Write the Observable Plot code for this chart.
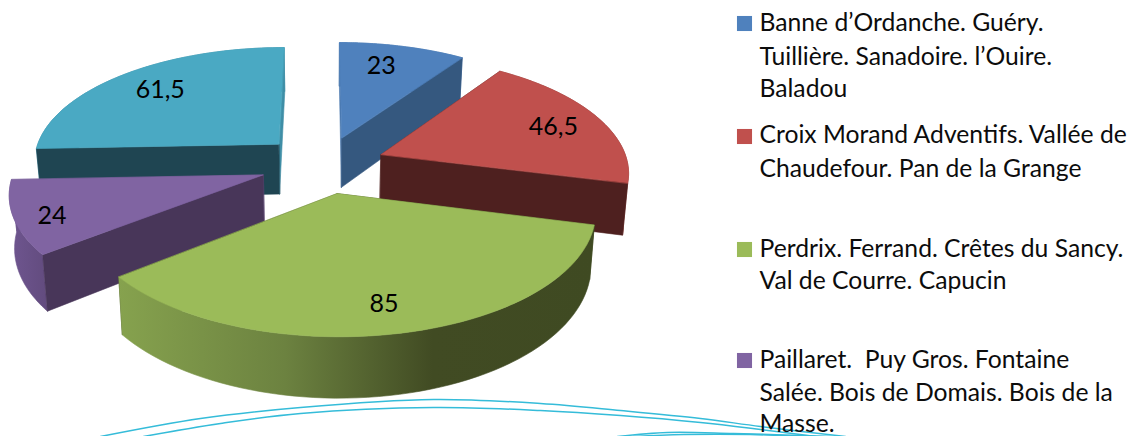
<!DOCTYPE html>
<html><head><meta charset="utf-8">
<script src="https://cdn.jsdelivr.net/npm/d3@7"></script>
<script src="https://cdn.jsdelivr.net/npm/@observablehq/plot@0.6"></script>
<style>html,body{margin:0;padding:0;background:#fff;overflow:hidden}svg{display:block}</style>
</head><body><div id="chart"></div>
<script>
const categories = [
  ["Banne d’Ordanche. Guéry.", "Tuillière. Sanadoire. l’Ouire.", "Baladou"],
  ["Croix Morand Adventifs. Vallée de", "Chaudefour. Pan de la Grange"],
  ["Perdrix. Ferrand. Crêtes du Sancy.", "Val de Courre. Capucin"],
  ["Paillaret.  Puy Gros. Fontaine", "Salée. Bois de Domais. Bois de la", "Masse."]
];
const values = [23, 46.5, 85, 24, 61.5];
const valueLabels = ["23", "46,5", "85", "24", "61,5"];
const topColors = ["#4f81bd", "#c0504d", "#9bbb59", "#8064a2", "#4aa9c3"];
const faceColors = ["#35587f", "#4e201f", "#414b23", "#483659", "#1f4552"];
const edgeColors = ["#4a78af", "#8a3a38", "#7f9a48", "#6a5288", "#3f8ea6"];
const drawOrder = [4, 0, 3, 1, 2];
const frontWall = ["end", "end", "none", "start", "start"];
const explodeBy = [0.25, 0.25, 0.25, 0.26, 0.26];
const legendLineY = [[23, 57, 89], [135, 169], [249, 281], [360, 393, 424]];
const legendSwatchY = [23, 136, 249, 360];
const waveA = [[100,436],[200,418],[300,407],[433,399],[540,403],[620,410],[700,418],[760,426],[845,436]];
const waveB = [[143,436],[220,423],[300,413],[433,407],[540,410],[620,415],[700,422],[760,429],[815,436]];
const waveC = [[617,436],[667,432],[733,433],[833,436]];
const waveD = [[633,436],[683,434],[750,434],[800,436]];

const cx = 323.5, cy = 164, sx = 247, sy = 115, K = 0.136, H = 51, shrink = 0.017;
const project = (X, Y, Z = 0) => {
  const w = 1 + K * Y;
  return {x: cx + sx * X / w * (1 - shrink * Z), y: cy - sy * Y / w + H * Z / w};
};
const arcs = d3.pie().sort(null)(values);
const slices = arcs.map((a, i) => {
  const mid = (a.startAngle + a.endAngle) / 2;
  const ox = explodeBy[i] * Math.sin(mid), oy = explodeBy[i] * Math.cos(mid);
  const at = (ang, r, z = 0) => project(ox + r * Math.sin(ang), oy + r * Math.cos(ang), z);
  const angs = d3.range(0, 61).map(k => a.startAngle + (a.endAngle - a.startAngle) * k / 60);
  return {
    i, mid, at,
    top: [at(0, 0), ...angs.map(t => at(t, 1))],
    side: [...angs.map(t => at(t, 1)), ...angs.slice().reverse().map(t => at(t, 1, 1))],
    start: [at(0, 0), at(a.startAngle, 1), at(a.startAngle, 1, 1), at(0, 0, 1)],
    end: [at(0, 0), at(a.endAngle, 1), at(a.endAngle, 1, 1), at(0, 0, 1)]
  };
});
const poly = (pts, color) => Plot.line(pts, {x: "x", y: "y", fill: color, stroke: color, strokeWidth: 0.6, curve: "linear-closed"});
const pieMarks = drawOrder.flatMap(i => {
  const s = slices[i];
  const front = frontWall[i];
  const sideFill = i === 2 ? "url(#greenSide)" : i === 3 ? "url(#purpleSide)" : edgeColors[i];
  const backWalls = ["start", "end"].filter(k => k !== front).map(k => {
    const sliver = (i === 0 && k === "start") || (i === 4 && k === "end") || (i === 3 && k === "end");
    return poly(s[k], sliver ? edgeColors[i] : faceColors[i]);
  });
  return [
    ...backWalls,
    poly(s.side, sideFill),
    ...(front === "none" ? [] : [poly(s[front], faceColors[i])]),
    poly(s.top, topColors[i])
  ];
});
const defs = () => {
  const d = d3.create("svg:defs");
  const grad = (id, stops) => {
    const g = d.append("linearGradient").attr("id", id).attr("x1", 0).attr("x2", 1).attr("y1", 0).attr("y2", 0);
    stops.forEach(([o, c]) => g.append("stop").attr("offset", o).attr("stop-color", c));
  };
  grad("greenSide", [[0, "#86a24e"], [0.35, "#6c8240"], [0.66, "#414b23"], [1, "#3f4a22"]]);
  grad("purpleSide", [[0, "#6f5690"], [1, "#624b7e"]]);
  return d.node();
};
const labelRadius = [0.76, 0.78, 0.81, 0.86, 0.76];
const labelTurn = [-0.05, 0.03, 0.015, -0.04, 0.015];
const labels = slices.map(s => ({...s.at(s.mid + labelTurn[s.i], labelRadius[s.i]), text: valueLabels[s.i]}));
const legendLines = categories.flatMap((lines, c) => lines.map((text, l) => ({text, y: legendLineY[c][l]})));
const swatches = legendSwatchY.map((y, c) => ({y, c}));
const wave = pts => Plot.line(pts, {x: d => d[0], y: d => d[1], curve: "catmull-rom", stroke: "#35bcd9", strokeWidth: 1.5});

const chart = Plot.plot({
  width: 1130, height: 436, margin: 0,
  x: {domain: [0, 1130], range: [0, 1130], axis: null},
  y: {domain: [0, 436], range: [0, 436], axis: null},
  style: {background: "#fff", fontFamily: "Lato, 'Noto Sans', sans-serif"},
  marks: [
    defs,
    ...pieMarks,
    Plot.text(labels, {x: "x", y: "y", text: "text", fontSize: 25, fill: "#000"}),
    wave(waveA), wave(waveB), wave(waveC), wave(waveD),
    Plot.dot(swatches, {x: () => 744, y: "y", symbol: "square", r: 8.5, fill: d => topColors[d.c]}),
    Plot.text(legendLines, {x: () => 759, y: "y", text: "text", textAnchor: "start", fontSize: 24.7, fill: "#0c0c0c"})
  ]
});
document.getElementById("chart").append(chart);
</script></body></html>
